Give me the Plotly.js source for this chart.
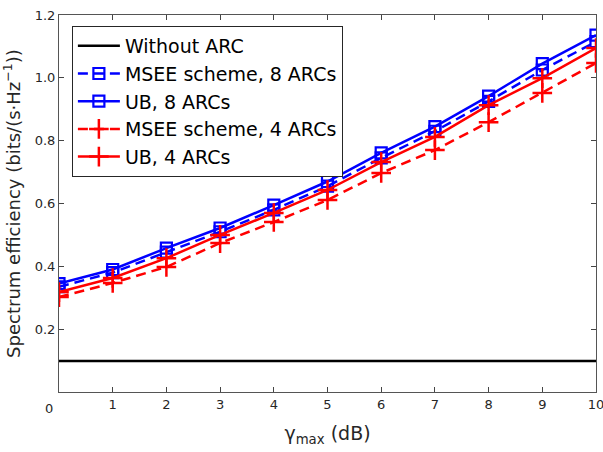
<!DOCTYPE html>
<html>
<head>
<meta charset="utf-8">
<script src="https://cdn.plot.ly/plotly-3.0.1.min.js"></script>
<style>html,body{margin:0;padding:0;background:#fff;}#chart{width:603px;height:452px;}</style>
</head>
<body>
<div id="chart"></div>
<script>
const gammaMax = [0, 1, 2, 3, 4, 5, 6, 7, 8, 9, 10];
const withoutARC = [0.099, 0.099, 0.099, 0.099, 0.099, 0.099, 0.099, 0.099, 0.099, 0.099, 0.099];
const msee8 = [0.335, 0.38, 0.445, 0.51, 0.58, 0.655, 0.745, 0.83, 0.925, 1.025, 1.115];
const ub8 = [0.345, 0.39, 0.458, 0.522, 0.595, 0.67, 0.761, 0.845, 0.942, 1.045, 1.136];
const msee4 = [0.302, 0.347, 0.398, 0.474, 0.541, 0.611, 0.697, 0.770, 0.859, 0.952, 1.047];
const ub4 = [0.318, 0.363, 0.426, 0.50, 0.57, 0.643, 0.732, 0.812, 0.913, 0.999, 1.095];
const xTicks = [1, 2, 3, 4, 5, 6, 7, 8, 9, 10];
const yTicks = [0.2, 0.4, 0.6, 0.8, 1.0, 1.2];
const yTickText = ['0.2', '0.4', '0.6', '0.8', '1.0', '1.2'];

const font = 'DejaVu Sans, sans-serif';
const traces = [
  {x: gammaMax, y: withoutARC, name: 'Without ARC', mode: 'lines',
   line: {color: '#000000', width: 2.5}},
  {x: gammaMax, y: msee8, name: 'MSEE scheme, 8 ARCs', mode: 'lines+markers',
   line: {color: '#0000FF', width: 2.5, dash: '10px,6px'},
   marker: {symbol: 'square-open', size: 11, color: '#0000FF', line: {width: 2.2, color: '#0000FF'}}},
  {x: gammaMax, y: ub8, name: 'UB, 8 ARCs', mode: 'lines+markers',
   line: {color: '#0000FF', width: 2.5},
   marker: {symbol: 'square-open', size: 11, color: '#0000FF', line: {width: 2.2, color: '#0000FF'}}},
  {x: gammaMax, y: msee4, name: 'MSEE scheme, 4 ARCs', mode: 'lines+markers',
   line: {color: '#FF0000', width: 2.5, dash: '10px,6px'},
   marker: {symbol: 'cross-thin-open', size: 14, color: '#FF0000', line: {width: 2.5, color: '#FF0000'}}},
  {x: gammaMax, y: ub4, name: 'UB, 4 ARCs', mode: 'lines+markers',
   line: {color: '#FF0000', width: 2.5},
   marker: {symbol: 'cross-thin-open', size: 14, color: '#FF0000', line: {width: 2.5, color: '#FF0000'}}}
];

const layout = {
  width: 603, height: 452,
  margin: {l: 59, r: 7, t: 15, b: 60},
  paper_bgcolor: '#ffffff', plot_bgcolor: '#ffffff',
  font: {family: font, color: '#262626'},
  showlegend: true,
  legend: {x: 0.024, y: 0.971, xanchor: 'left', yanchor: 'top',
    bgcolor: '#ffffff', bordercolor: '#262626', borderwidth: 1, itemwidth: 42,
    font: {family: font, size: 19, color: '#000000'}, tracegroupgap: 0},
  xaxis: {range: [0, 10], tickvals: xTicks, ticktext: xTicks.map(String),
    ticks: 'inside', ticklen: 5, tickcolor: '#444', showline: true, linecolor: '#555', linewidth: 1,
    mirror: 'ticks', showgrid: false, zeroline: false, ticklabeloverflow: 'allow',
    tickfont: {family: font, size: 13, color: '#262626'},
    title: {text: 'γ<sub>max</sub> (dB)', font: {family: font, size: 19, color: '#262626'}, standoff: 16}},
  yaxis: {range: [0, 1.2], tickvals: yTicks, ticktext: yTickText,
    ticks: 'inside', ticklen: 5, tickcolor: '#444', showline: true, linecolor: '#555', linewidth: 1,
    mirror: 'ticks', showgrid: false, zeroline: false, ticklabeloverflow: 'allow',
    tickfont: {family: font, size: 13, color: '#262626'},
    title: {text: 'Spectrum efficiency (bits/(s·Hz<sup>−1</sup>))', font: {family: font, size: 18, color: '#262626'}, standoff: 10}},
  annotations: [{text: '0', xref: 'paper', yref: 'paper', x: -0.0186, y: -0.045,
    xanchor: 'center', yanchor: 'middle', showarrow: false,
    font: {family: font, size: 13, color: '#262626'}}]
};

Plotly.newPlot('chart', traces, layout, {displayModeBar: false, staticPlot: true});
</script>
</body>
</html>
